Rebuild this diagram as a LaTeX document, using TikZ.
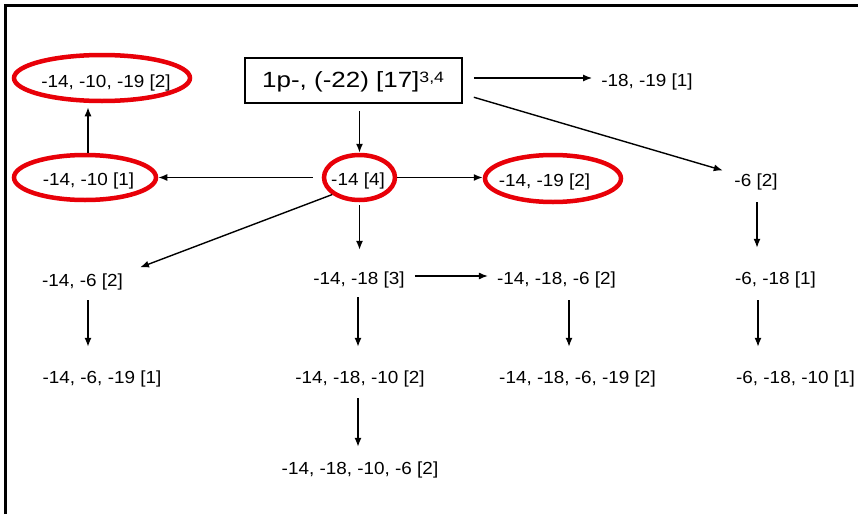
\documentclass[tikz,border=0pt]{standalone}
\usepackage{fontspec}
\setmainfont[FakeStretch=1.08]{Liberation Sans}
\newfontfamily\titlefont[FakeStretch=1.18]{Liberation Sans}
\usetikzlibrary{arrows.meta,shapes.geometric}
\definecolor{ringred}{RGB}{232,0,8}
\tikzset{
  lbl/.style={inner sep=0pt, text height=12pt, text depth=4pt, anchor=base,
    font=\fontsize{17.5}{20}\selectfont},
  ring/.style={draw=ringred, line width=4.5pt, ellipse, inner sep=0pt},
  arr/.style={line width=1.4pt, -{Latex[length=9pt,width=7pt]}},
}
\begin{document}
\begin{tikzpicture}[x=1pt,y=-1pt]
\useasboundingbox (0,0) rectangle (858,514);
\fill[white] (0,0) rectangle (858,514);
% frame
\draw[line width=2.5pt] (5.3,514) -- (5.3,5.3) -- (858,5.3);
% title box
\node[draw, line width=1.6pt, minimum width=217pt, minimum height=45pt, inner sep=0pt] (T) at (353.5,80.5) {};
\node[inner sep=0pt, anchor=base west, font=\titlefont\fontsize{22}{26}\selectfont] (Tt) at (262,87.5)
  {1p-, (-22) [17]\raisebox{5pt}{\fontsize{15}{17}\selectfont 3,4}};
% labels
\node[lbl] (A) at (106,87) {-14, -10, -19 [2]};
\node[lbl] (B) at (88.5,185) {-14, -10 [1]};
\node[lbl] (C) at (358,185) {-14 [4]};
\node[lbl] (D) at (544.5,186) {-14, -19 [2]};
\node[lbl] (E) at (647,86) {-18, -19 [1]};
\node[lbl] (F) at (756,186) {-6 [2]};
\node[lbl] (G) at (82.5,286) {-14, -6 [2]};
\node[lbl] (H) at (359,284) {-14, -18 [3]};
\node[lbl] (I) at (556.5,284) {-14, -18, -6 [2]};
\node[lbl] (J) at (775.5,284) {-6, -18 [1]};
\node[lbl] (K) at (102,383) {-14, -6, -19 [1]};
\node[lbl] (L) at (360,383) {-14, -18, -10 [2]};
\node[lbl] (M) at (577.5,383) {-14, -18, -6, -19 [2]};
\node[lbl] (N) at (795.5,383) {-6, -18, -10 [1]};
\node[lbl] (O) at (360,474) {-14, -18, -10, -6 [2]};
% red rings
\node[ring, minimum width=176pt, minimum height=46pt] (eA) at (102,78) {};
\node[ring, minimum width=142pt, minimum height=45pt] (eB) at (85,177.5) {};
\node[ring, minimum width=71pt, minimum height=45pt] (eC) at (359.5,177.5) {};
\node[ring, minimum width=136pt, minimum height=47pt] (eD) at (553,178.5) {};
% connectors
\draw[arr, shorten <=11pt, shorten >=9pt] ([yshift=2.5pt]T.east) -- ([yshift=2.5pt]T.east -| E.west);
\draw[arr, shorten <=11.5pt, shorten >=12pt] ([yshift=-13.5pt]T.east) -- (F.north west);
\draw[arr, shorten <=7pt] (T.south -| eC.north) -- (eC.north);
\draw[arr, shorten <=9pt] (eC.west) -- (eC.west -| eB.east);
\draw[arr] (eC.east) -- (eC.east -| eD.west);
\draw[arr, shorten >=4pt] ([xshift=3pt]eB.north) -- ([xshift=3pt]eB.north |- eA.south);
\draw[arr, shorten >=18pt] (eC.212) -- (G.north east);
\draw[arr, shorten <=3pt, shorten >=22pt] (eC.south) -- (eC.south |- H.north);
\draw[arr, shorten <=10pt, shorten >=9pt] ([yshift=4pt]H.east) -- ([yshift=4pt]H.east -| I.west);
\draw[arr, shorten <=9pt, shorten >=24pt] ([xshift=-1pt]H.south) -- ([xshift=-1pt]H.south |- L.north);
\draw[arr, shorten <=11pt, shorten >=15pt] ([xshift=-2pt]L.south) -- ([xshift=-2pt]L.south |- O.north);
\draw[arr, shorten <=10pt, shorten >=24pt] ([xshift=5.5pt]G.south) -- ([xshift=5.5pt]G.south |- K.north);
\draw[arr, shorten <=12pt, shorten >=24pt] ([xshift=12.5pt]I.south) -- ([xshift=12.5pt]I.south |- M.north);
\draw[arr, shorten <=12pt, shorten >=24pt] ([xshift=1pt]F.south) -- ([xshift=1pt]F.south |- J.north);
\draw[arr, shorten <=12pt, shorten >=24pt] ([xshift=-17.5pt]J.south) -- ([xshift=-17.5pt]J.south |- N.north);
\end{tikzpicture}
\end{document}
